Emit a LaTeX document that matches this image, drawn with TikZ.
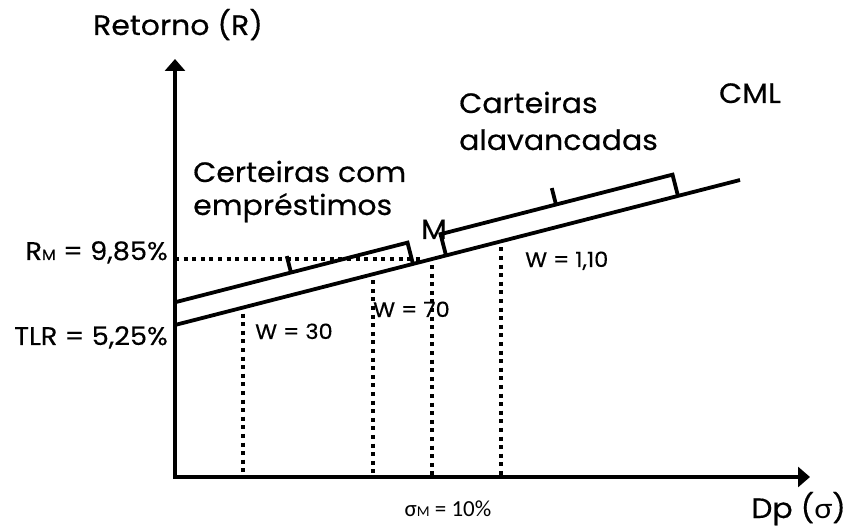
\documentclass[tikz,border=0pt]{standalone}
\usepackage{fontspec}
\setmainfont{Poppins}[FakeStretch=1.07, FakeBold=0.4]
\newfontfamily\grk{Lato}[FakeStretch=1.07]
\newfontfamily\sigfont{Carlito}
\usetikzlibrary{arrows.meta,calc}

\begin{document}
\begin{tikzpicture}[x=1pt, y=-1pt, font=\fontsize{28}{36}\selectfont, >={Triangle[length=12pt, width=20pt]},
  axis/.style={<->, line width=3.6pt},
  cml/.style={line width=3.8pt},
  brk/.style={line width=3.8pt},
  dots/.style={line width=4pt, dash pattern=on 4pt off 4.6pt},
  lbl/.style={inner sep=0pt},
  ylbl/.style={anchor=base east, inner sep=0pt, font=\fontsize{25.5}{30}\selectfont},
  wlbl/.style={anchor=base west, inner sep=0pt, font=\fontsize{21}{24}\selectfont}]
\useasboundingbox (0,0) rectangle (852,529);
% axes
\coordinate (O) at (175,477);
\coordinate (ytip) at (175,59);
\coordinate (xtip) at (810,477);
\draw[axis] (ytip) -- (O) -- (xtip);
% capital market line and the points on it
\coordinate (T) at (175,325);
\coordinate (E) at (740,180);
\draw[cml] (T) -- (E);
\coordinate (w30) at ($(T)!0.1204!(E)$);
\coordinate (w70) at ($(T)!0.3504!(E)$);
\coordinate (M) at ($(T)!0.4549!(E)$);
\coordinate (w110) at ($(T)!0.5770!(E)$);
\foreach \p in {w30,w70,M,w110} \draw[dots] ($(\p)+(0,6)$) -- (\p |- O);
\draw[dots] (M -| O) -- ($(M)+(-9,0)$);
% ---- brackets along the CML (borrowing / leveraged)
\begin{scope}[shift={(T)}, rotate=14.39]
  \draw[brk] (5.65,-22) -- (245.7,-22) -- (245.7,0);
  \draw[brk] (125.4,-22) -- (125.4,-39);
  \draw[brk] (279.8,0) -- (279.8,-22) -- (519.3,-22) -- (519.3,0);
  \draw[brk] (399,-22) -- (399,-39);
\end{scope}
% ---- labels
\node[lbl, anchor=base] (ret) at (178,35) {Retorno (R)};
\node[lbl, anchor=base east] (dp) at (846,518) {Dp ({\grk σ})};
\node[lbl, anchor=base] (cmlname) at (750,103) {CML};
\node[lbl, anchor=base west, align=left, font=\fontsize{28}{37}\selectfont] (alav) at (459,150) {Carteiras\\alavancadas};
\node[lbl, anchor=base west, align=left, font=\fontsize{28}{33}\selectfont] (empr) at (193,215) {Certeiras com\\empréstimos};
\node[lbl, anchor=base] (mlabel) at (434,239) {M};
\node[ylbl] (rm) at (168,260) {R{\fontsize{15}{16}\selectfont M} = 9,85\%};
\node[ylbl] (tlr) at (168,345) {TLR = 5,25\%};
\node[wlbl] (lw30) at (255,339) {W = 30};
\node[wlbl] (lw70) at (373,317) {W = 70};
\node[wlbl] (lw110) at (525,267) {W = 1,10};
\node[lbl, anchor=base, font=\sigfont\fontsize{23}{26}\selectfont] (sm) at (448,516) {σ{\fontsize{15}{16}\selectfont M} = 10\%};
\end{tikzpicture}
\end{document}
